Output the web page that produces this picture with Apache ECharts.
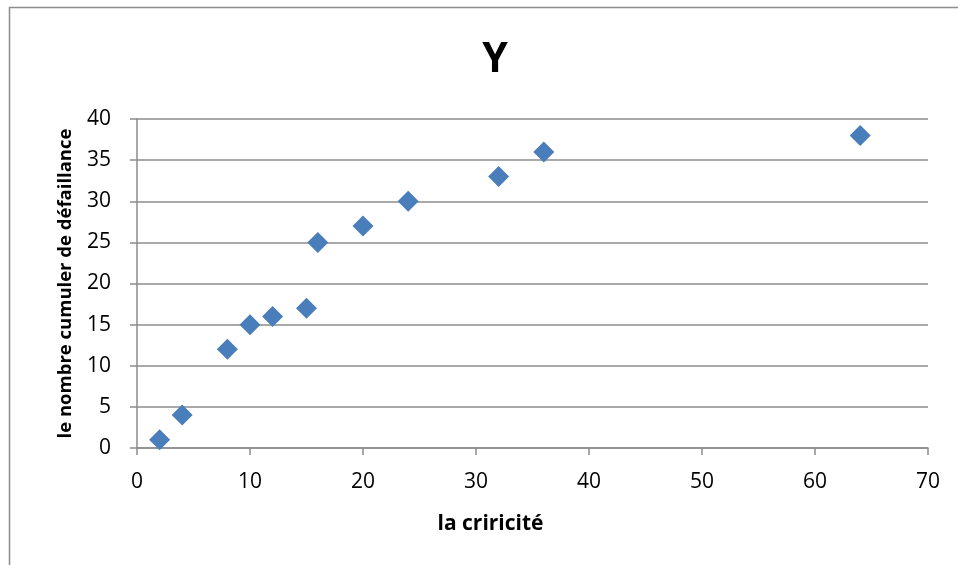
<!DOCTYPE html>
<html>
<head>
<meta charset="utf-8">
<script src="https://cdn.jsdelivr.net/npm/echarts@6/dist/echarts.min.js"></script>
<style>
  html, body { margin: 0; padding: 0; background: #fff; }
  #chart { width: 958px; height: 565px; }
</style>
</head>
<body>
<div id="chart"></div>
<script>
// Criticality vs cumulative number of failures
const criticite = [2, 4, 8, 10, 12, 15, 16, 20, 24, 32, 36, 64];
const defaillances = [1, 4, 12, 15, 16, 17, 25, 27, 30, 33, 36, 38];
const xTicks = [0, 10, 20, 30, 40, 50, 60, 70];
const yTicks = [0, 5, 10, 15, 20, 25, 30, 35, 40];

const points = criticite.map((x, i) => [x, defaillances[i]]);
const font = "'Open Sans', 'Noto Sans', sans-serif";

const chart = echarts.init(document.getElementById('chart'), null, { renderer: 'canvas' });
chart.setOption({
  animation: false,
  backgroundColor: '#ffffff',
  graphic: [{
    type: 'rect',
    shape: { x: 9.5, y: 7.5, width: 1000, height: 700 },
    style: { fill: 'none', stroke: '#8c8c8c', lineWidth: 1.5 },
    silent: true,
    z: -1
  }],
  title: {
    text: 'Y',
    left: 490,
    top: 35,
    textAlign: 'center',
    textStyle: { fontFamily: font, fontSize: 41, fontWeight: 'bold', color: '#000' }
  },
  grid: { left: 137, right: 30, top: 119, bottom: 117, containLabel: false },
  xAxis: {
    type: 'value',
    min: xTicks[0],
    max: xTicks[xTicks.length - 1],
    interval: 10,
    name: 'la criricité',
    nameLocation: 'middle',
    nameGap: 66,
    nameTextStyle: { fontFamily: font, fontSize: 21, fontWeight: 'bold', color: '#000', padding: [0, 84, 0, 0] },
    axisLine: { show: true, onZero: false, lineStyle: { color: '#8c8c8c', width: 1.5 } },
    axisTick: { show: true, length: 7, lineStyle: { color: '#8c8c8c', width: 1.5 } },
    axisLabel: { fontFamily: font, fontSize: 21, color: '#000', margin: 24 },
    splitLine: { show: false }
  },
  yAxis: {
    type: 'value',
    min: yTicks[0],
    max: yTicks[yTicks.length - 1],
    interval: 5,
    name: 'le nombre cumuler de défaillance',
    nameLocation: 'middle',
    nameGap: 62,
    nameRotate: 90,
    nameTextStyle: { fontFamily: font, fontSize: 18.5, fontWeight: 'bold', color: '#000' },
    axisLine: { show: true, lineStyle: { color: '#8c8c8c', width: 1.5 } },
    axisTick: { show: true, length: 7, lineStyle: { color: '#8c8c8c', width: 1.5 } },
    axisLabel: { fontFamily: font, fontSize: 21, color: '#000', margin: 26 },
    splitLine: { show: true, lineStyle: { color: '#8c8c8c', width: 1.5 } }
  },
  series: [{
    type: 'scatter',
    data: points,
    symbol: 'diamond',
    symbolSize: [21, 21],
    itemStyle: { color: '#4a7ebb', opacity: 1 }
  }]
});
</script>
</body>
</html>
